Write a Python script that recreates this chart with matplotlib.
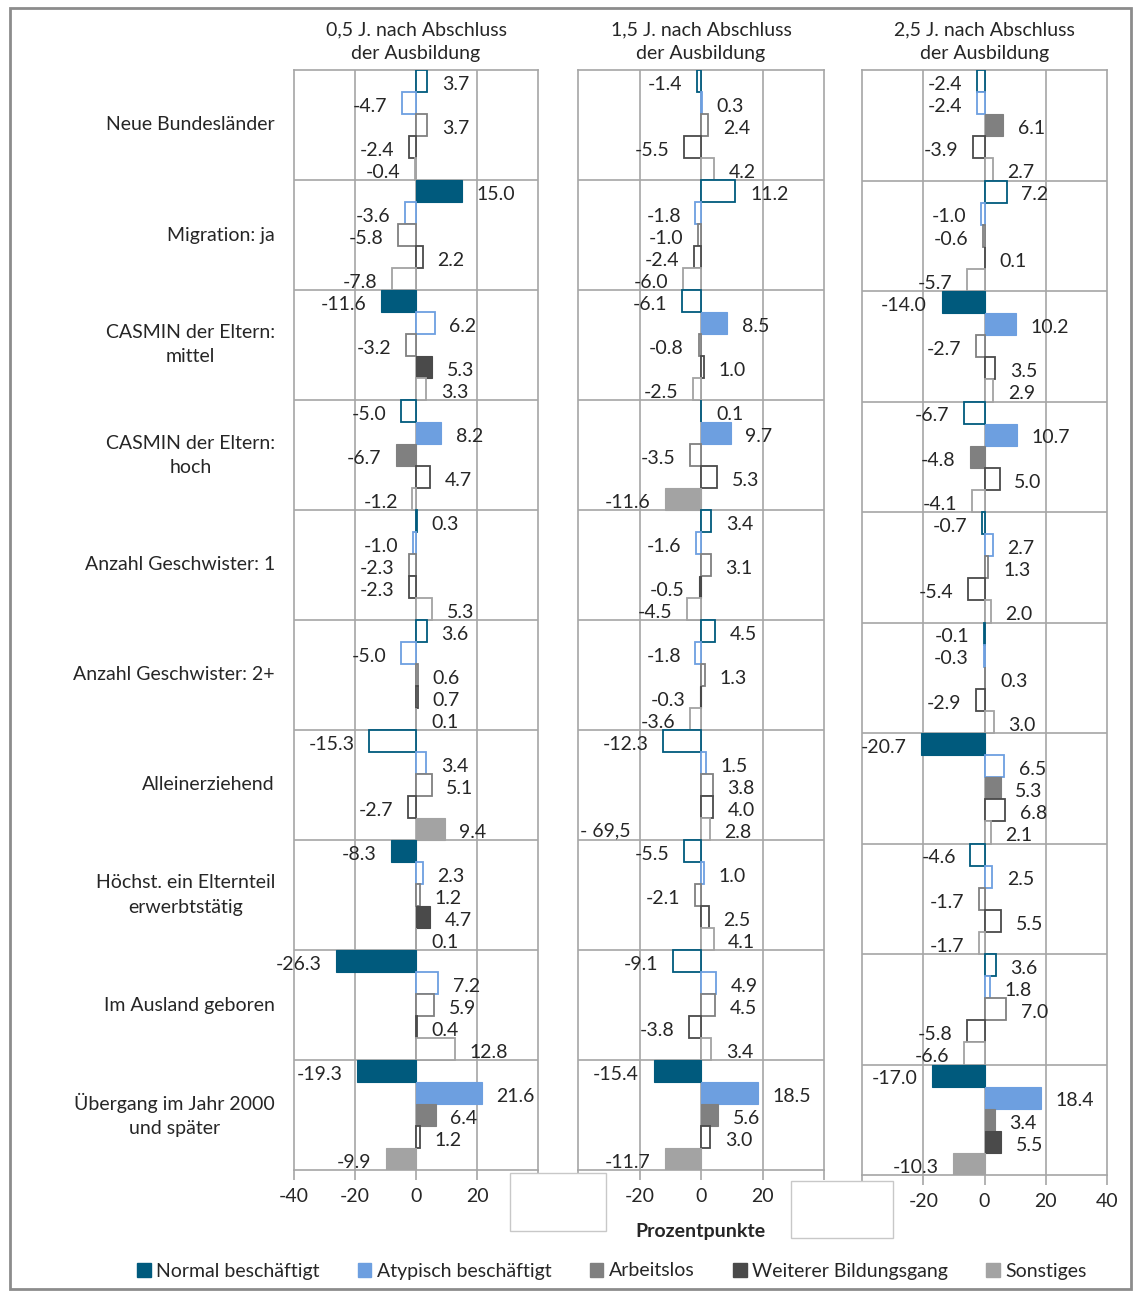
import matplotlib.pyplot as plt
from matplotlib.patches import Patch, Rectangle
import numpy as np

plt.rcParams['font.family'] = ['Lato', 'DejaVu Sans']
TXT = '#262626'
GRID = '#a6a6a6'
FS = 14

categories = ["Neue Bundesländer", "Migration: ja", "CASMIN der Eltern:\nmittel",
              "CASMIN der Eltern:\nhoch", "Anzahl Geschwister: 1", "Anzahl Geschwister: 2+",
              "Alleinerziehend", "Höchst. ein Elternteil\nerwerbtstätig",
              "Im Ausland geboren", "Übergang im Jahr 2000\nund später"]
series = ["Normal beschäftigt", "Atypisch beschäftigt", "Arbeitslos",
          "Weiterer Bildungsgang", "Sonstiges"]
colors = ['#005a7d', '#6d9fe0', '#808080', '#4a4a4a', '#a3a3a3']
titles = ["0,5 J. nach Abschluss\nder Ausbildung", "1,5 J. nach Abschluss\nder Ausbildung",
          "2,5 J. nach Abschluss\nder Ausbildung"]

# values per category: normal, atypisch, arbeitslos, weiterer, sonstiges
vals_05 = [[3.7, -4.7, 3.7, -2.4, -0.4],
           [15.0, -3.6, -5.8, 2.2, -7.8],
           [-11.6, 6.2, -3.2, 5.3, 3.3],
           [-5.0, 8.2, -6.7, 4.7, -1.2],
           [0.3, -1.0, -2.3, -2.3, 5.3],
           [3.6, -5.0, 0.6, 0.7, 0.1],
           [-15.3, 3.4, 5.1, -2.7, 9.4],
           [-8.3, 2.3, 1.2, 4.7, 0.1],
           [-26.3, 7.2, 5.9, 0.4, 12.8],
           [-19.3, 21.6, 6.4, 1.2, -9.9]]
vals_15 = [[-1.4, 0.3, 2.4, -5.5, 4.2],
           [11.2, -1.8, -1.0, -2.4, -6.0],
           [-6.1, 8.5, -0.8, 1.0, -2.5],
           [0.1, 9.7, -3.5, 5.3, -11.6],
           [3.4, -1.6, 3.1, -0.5, -4.5],
           [4.5, -1.8, 1.3, -0.3, -3.6],
           [-12.3, 1.5, 3.8, 4.0, 2.8],
           [-5.5, 1.0, -2.1, 2.5, 4.1],
           [-9.1, 4.9, 4.5, -3.8, 3.4],
           [-15.4, 18.5, 5.6, 3.0, -11.7]]
vals_25 = [[-2.4, -2.4, 6.1, -3.9, 2.7],
           [7.2, -1.0, -0.6, 0.1, -5.7],
           [-14.0, 10.2, -2.7, 3.5, 2.9],
           [-6.7, 10.7, -4.8, 5.0, -4.1],
           [-0.7, 2.7, 1.3, -5.4, 2.0],
           [-0.1, -0.3, 0.3, -2.9, 3.0],
           [-20.7, 6.5, 5.3, 6.8, 2.1],
           [-4.6, 2.5, -1.7, 5.5, -1.7],
           [3.6, 1.8, 7.0, -5.8, -6.6],
           [-17.0, 18.4, 3.4, 5.5, -10.3]]

# F = filled (significant), o = outline only
fill_05 = ["ooooo", "Foooo", "FooFo", "oFFoo", "ooooo", "ooooo", "ooooF", "FooFo", "Foooo", "FFFoF"]
fill_15 = ["ooooo", "ooooo", "oFooo", "oFooF", "oooFo", "oooFo", "ooooo", "ooooo", "ooooo", "FFFoF"]
fill_25 = ["ooFoo", "ooooo", "FFooo", "oFFoo", "ooooo", "ooooo", "FoFoo", "ooooo", "ooooo", "FFFFF"]

W, H = 1134, 1291
fig = plt.figure(figsize=(W / 100, H / 100), dpi=100)

boxes = [(294, 70, 244, 1100), (578, 70, 246, 1100), (862, 70, 245, 1105)]
panels = [(vals_05, fill_05), (vals_15, fill_15), (vals_25, fill_25)]

n_cat = len(categories)
n_ser = len(series)
axes = []
for p, ((x0, y0, w, h), (vals, fills)) in enumerate(zip(boxes, panels)):
    ax = fig.add_axes([x0 / W, 1 - (y0 + h) / H, w / W, h / H])
    axes.append(ax)
    vals = np.array(vals)
    for i in range(n_cat):
        for j in range(n_ser):
            v = vals[i, j]
            y = i * n_ser + j + 0.5
            if fills[i][j] == 'F':
                ax.barh(y, v, height=1.0, color=colors[j], edgecolor=colors[j], lw=0.8, zorder=3)
            else:
                ax.barh(y, v, height=1.0, facecolor='white', edgecolor=colors[j], lw=1.3, zorder=3)
            off = 10.5 if v >= 0 else -10.5
            ax.annotate(f"{v:.1f}", (v, y + 0.15), xytext=(off, 0), textcoords='offset points',
                        ha='left' if v >= 0 else 'right', va='center', fontsize=FS,
                        color=TXT, zorder=4)
    ax.set_xlim(-40, 40)
    ax.set_ylim(n_cat * n_ser, 0)
    ax.set_xticks([-40, -20, 0, 20, 40])
    ax.set_xticklabels(["-40", "-20", "0", "20", "40"])
    ax.set_yticks([])
    for xg in [-20, 0, 20]:
        ax.axvline(xg, color=GRID, lw=1.2, zorder=1)
    for k in range(1, n_cat):
        ax.axhline(k * n_ser, color=GRID, lw=1.2, zorder=1)
    for s in ax.spines.values():
        s.set_color(GRID)
        s.set_linewidth(1.2)
    ax.tick_params(axis='x', labelsize=FS, colors=GRID, labelcolor=TXT, length=7, width=1.2, pad=6)
    ax.set_title(titles[p], fontsize=FS, color=TXT, pad=8, linespacing=1.45)

axes[1].text(-39.5, 6 * n_ser + 4.6, "- 69,5", ha='left', va='center', fontsize=FS, color=TXT, zorder=4)

# category labels
for i, c in enumerate(categories):
    yc = 70 + (i + 0.5) * 110
    fig.text(275 / W, 1 - yc / H, c, ha='right', va='center', multialignment='center',
             fontsize=FS, color=TXT, linespacing=1.5)

fig.text(700 / W, 1 - 1232 / H, "Prozentpunkte", ha='center', va='center',
         fontsize=FS, fontweight='bold', color=TXT)

# white boxes covering outer tick labels
for (bx, by, bw, bh) in [(510, 1173, 96, 58), (791, 1181, 102, 57)]:
    fig.patches.append(Rectangle((bx / W, 1 - (by + bh) / H), bw / W, bh / H,
                                 transform=fig.transFigure, facecolor='white',
                                 edgecolor='#c8c8c8', lw=1, zorder=10))

# outer frame
fig.patches.append(Rectangle((10 / W, 1 - 1289 / H), 1121 / W, 1281 / H, transform=fig.transFigure,
                             facecolor='none', edgecolor='#8c8c8c', lw=2, zorder=0))

handles = [Patch(facecolor=c, edgecolor=c) for c in colors]
fig.legend(handles, series, loc='center', bbox_to_anchor=(612 / W, 1 - 1271 / H), ncol=5,
           frameon=False, fontsize=FS, handlelength=0.7, handleheight=0.7,
           handletextpad=0.3, columnspacing=1.95, labelcolor=TXT)

fig.savefig("out.png", dpi=100)
